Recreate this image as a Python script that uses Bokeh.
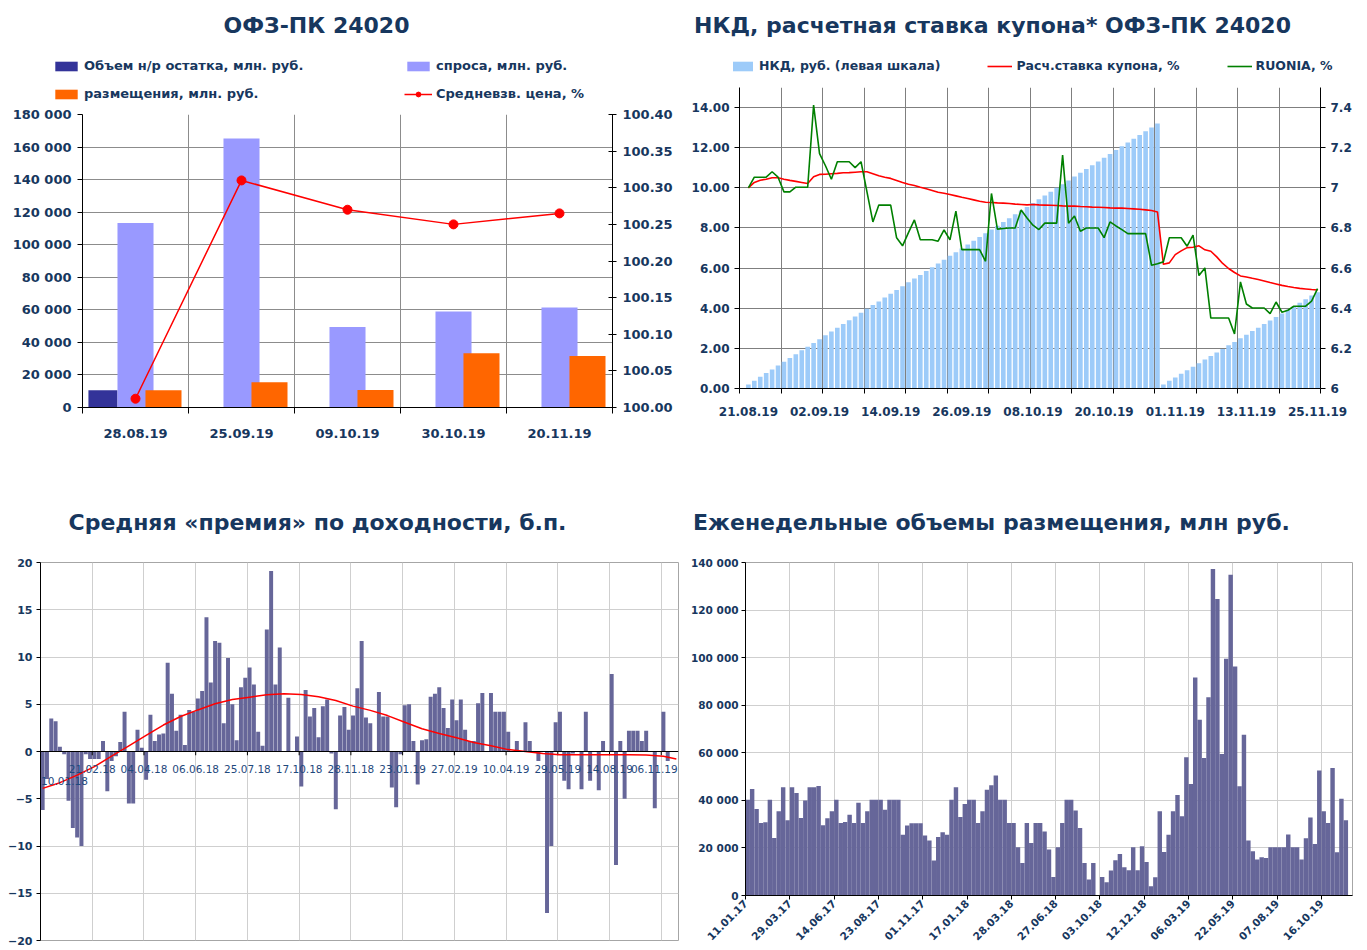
import math
from bokeh.plotting import figure
from bokeh.models import (Range1d, LinearAxis, FixedTicker, Legend, LegendItem,
                          Label, LabelSet, ColumnDataSource, Span, NumeralTickFormatter)
from bokeh.layouts import row, column
from bokeh.embed import file_html
from bokeh.resources import INLINE
from bokeh.core.properties import value

FONT = "DejaVu Sans"
TXT = "#17375E"

# ---------------- Panel 1 data ----------------
p1_dates = ["28.08.19", "25.09.19", "09.10.19", "30.10.19", "20.11.19"]
p1_remainder = [10600, float("nan"), float("nan"), float("nan"), float("nan")]
p1_demand = [113300, 165300, 49400, 59000, 61400]
p1_placed = [10600, 15500, 10800, 33300, 31600]
p1_price = [100.012, 100.310, 100.270, 100.250, 100.265]
p1_yticks = [0, 20000, 40000, 60000, 80000, 100000, 120000, 140000, 160000, 180000]
p1_rticks = [100.00, 100.05, 100.10, 100.15, 100.20, 100.25, 100.30, 100.35, 100.40]

# ---------------- Panel 2 data (daily, 21.08.19 .. 25.11.19) ----------------
p2_tick_labels = ["21.08.19", "02.09.19", "14.09.19", "26.09.19", "08.10.19",
                  "20.10.19", "01.11.19", "13.11.19", "25.11.19"]
p2_label_days = [0, 12, 24, 36, 48, 60, 72, 84, 96]
p2_nkd = [0.20, 0.39, 0.58, 0.77, 0.95, 1.14, 1.33, 1.52, 1.71, 1.90,
          2.08, 2.27, 2.46, 2.65, 2.84, 3.03, 3.21, 3.40, 3.59, 3.78,
          3.97, 4.16, 4.34, 4.53, 4.72, 4.91, 5.10, 5.29, 5.48, 5.66,
          5.85, 6.04, 6.23, 6.42, 6.61, 6.79, 6.98, 7.17, 7.36, 7.55,
          7.74, 7.92, 8.11, 8.30, 8.49, 8.68, 8.87, 9.05, 9.24, 9.43,
          9.62, 9.81, 10.00, 10.18, 10.37, 10.56, 10.75, 10.94, 11.13, 11.31,
          11.50, 11.69, 11.88, 12.07, 12.26, 12.44, 12.63, 12.82, 13.01, 13.20,
          0.20, 0.38, 0.55, 0.73, 0.91, 1.09, 1.26, 1.44, 1.62, 1.79,
          1.97, 2.15, 2.32, 2.50, 2.68, 2.86, 3.03, 3.21, 3.39, 3.56,
          3.74, 3.92, 4.09, 4.27, 4.45, 4.63, 4.80]
p2_coupon = [7.000, 7.027, 7.038, 7.043, 7.050, 7.050, 7.043, 7.037, 7.032, 7.027,
             7.022, 7.055, 7.067, 7.068, 7.070, 7.072, 7.075, 7.076, 7.078, 7.080,
             7.080, 7.070, 7.060, 7.053, 7.047, 7.037, 7.027, 7.018, 7.012, 7.003,
             6.995, 6.987, 6.978, 6.973, 6.967, 6.960, 6.953, 6.947, 6.940, 6.933,
             6.928, 6.927, 6.925, 6.924, 6.922, 6.919, 6.917, 6.915, 6.917, 6.915,
             6.914, 6.913, 6.912, 6.910, 6.909, 6.909, 6.907, 6.906, 6.904, 6.903,
             6.902, 6.900, 6.899, 6.899, 6.897, 6.895, 6.893, 6.890, 6.887, 6.880,
             6.619, 6.626, 6.667, 6.686, 6.702, 6.704, 6.711, 6.691, 6.684, 6.656,
             6.623, 6.598, 6.578, 6.561, 6.556, 6.549, 6.543, 6.536, 6.528, 6.521,
             6.514, 6.508, 6.503, 6.499, 6.496, 6.493, 6.491]
p2_ruonia = [7.000, 7.053, 7.053, 7.053, 7.080, 7.053, 6.980, 6.980, 7.003, 7.003,
             7.003, 7.412, 7.170, 7.110, 7.043, 7.130, 7.130, 7.130, 7.101, 7.130,
             6.980, 6.830, 6.914, 6.914, 6.914, 6.751, 6.711, 6.777, 6.840, 6.741,
             6.741, 6.741, 6.734, 6.790, 6.741, 6.884, 6.692, 6.692, 6.692, 6.692,
             6.634, 6.972, 6.794, 6.797, 6.800, 6.800, 6.889, 6.850, 6.814, 6.792,
             6.824, 6.824, 6.824, 7.163, 6.824, 6.860, 6.784, 6.800, 6.800, 6.800,
             6.752, 6.830, 6.810, 6.792, 6.772, 6.772, 6.772, 6.772, 6.614, 6.622,
             6.631, 6.751, 6.751, 6.751, 6.709, 6.764, 6.563, 6.601, 6.351, 6.351,
             6.351, 6.351, 6.272, 6.531, 6.421, 6.401, 6.401, 6.401, 6.373, 6.431,
             6.380, 6.390, 6.410, 6.410, 6.410, 6.435, 6.498]
p2_lticks = [0, 2, 4, 6, 8, 10, 12, 14]
p2_rticks = [6.0, 6.2, 6.4, 6.6, 6.8, 7.0, 7.2, 7.4]
p2_rtick_labels = ["6", "6.2", "6.4", "6.6", "6.8", "7", "7.2", "7.4"]

# ---------------- Panel 3 data (per auction) ----------------
p3_labels = ["10.01.18", "21.02.18", "04.04.18", "06.06.18", "25.07.18", "17.10.18",
             "28.11.18", "23.01.19", "27.02.19", "10.04.19", "29.05.19", "14.08.19", "06.11.19"]
p3_premium = [-6.2, -2.9, 3.5, 3.2, 0.5, -0.3, -5.2, -8.1, -9.1, -10.0, -0.3, -0.8,
              -0.8, -0.8, 1.1, -4.2, -1.0, -0.5, 1.0, 4.2, -5.5, -5.5, 2.3, 0.4,
              -3.0, 3.9, 1.1, 1.8, 1.9, 9.4, 6.1, 2.2, 3.9, 0.7, 4.4, 4.2,
              5.6, 6.4, 14.2, 7.3, 11.7, 11.5, 3.0, 9.9, 5.0, 1.2, 6.8, 7.8,
              8.9, 7.1, 2.1, 0.6, 12.9, 19.1, 7.1, 11.0, 0.0, 5.7, 0.0, 1.6,
              -3.7, 6.5, 3.7, 4.6, 1.5, 4.8, 5.5, -0.2, -6.1, 3.8, 4.7, 2.3,
              3.8, 6.7, 11.7, 3.6, 3.0, 0.0, 6.3, 3.7, 3.7, -3.8, -5.9, -0.3,
              4.9, 5.0, 1.1, -3.5, 1.2, 1.3, 5.8, 6.1, 6.8, 4.6, 2.5, 5.5,
              3.3, 5.5, 2.3, 1.1, 1.1, 5.1, 6.2, 0.0, 6.2, 4.2, 4.2, 4.2,
              2.1, 0.0, 1.1, 0.0, 3.1, 1.1, 0.0, -1.0, 0.0, -17.1, -10.0, 3.1,
              4.2, -3.1, -4.0, -0.2, 0.0, -4.0, 4.2, -3.1, 0.0, -4.1, 1.1, 0.0,
              8.2, -12.0, 1.1, -5.0, 2.2, 2.2, 2.2, 1.1, 2.2, 0.0, -6.0, 0.0,
              4.2, -1.0, 0.0, 0.0]
p3_trend_pos = [0, 4, 8, 12, 16, 20, 24, 28, 32, 36, 40, 44, 48, 52, 56, 60, 64, 68, 72,
                76, 80, 84, 88, 92, 96, 100, 104, 108, 112, 116, 120, 124, 128, 132,
                136, 140, 144, 147]
p3_trend = [-3.9, -3.3, -2.5, -1.6, -0.5, 0.6, 1.7, 2.8, 3.7, 4.4, 5.05, 5.5, 5.75,
            6.0, 6.1, 6.03, 5.8, 5.4, 4.8, 4.35, 3.8, 3.1, 2.4, 1.9, 1.45, 0.95, 0.6,
            0.2, 0.0, -0.2, -0.35, -0.35, -0.35, -0.35, -0.35, -0.38, -0.5, -0.8]
p3_yticks = [-20, -15, -10, -5, 0, 5, 10, 15, 20]

# ---------------- Panel 4 data (weekly) ----------------
p4_labels = ["11.01.17", "29.03.17", "14.06.17", "23.08.17", "01.11.17", "17.01.18",
             "28.03.18", "27.06.18", "03.10.18", "12.12.18", "06.03.19", "22.05.19",
             "07.08.19", "16.10.19"]
p4_volume = [40300, 44800, 36400, 30500, 30800, 40300, 24200, 35400, 45500, 31600,
             45500, 43100, 32600, 39900, 45500, 45500, 46000, 29500, 32500, 35400,
             40300, 30500, 30900, 33900, 30500, 39000, 30500, 35400, 40300, 40300,
             40300, 36100, 40300, 40300, 40300, 25500, 29400, 30400, 30400, 30400,
             25200, 23100, 14700, 24600, 26600, 25500, 40300, 45500, 33000, 38500,
             40300, 40300, 30500, 35400, 44500, 46300, 50500, 40300, 40300, 30500,
             30500, 20300, 13700, 30500, 22100, 30500, 30500, 26900, 19300, 7800,
             20300, 30500, 40300, 40300, 35700, 28400, 13700, 6700, 13700, 0,
             7800, 5600, 10500, 14800, 17500, 11900, 10600, 20300, 10600, 20700,
             14100, 3900, 7700, 35400, 18300, 25500, 35400, 42300, 33300, 58100,
             46900, 91700, 73900, 57800, 83300, 137300, 124700, 59500, 99500, 134800,
             96300, 45900, 67600, 23100, 18600, 15100, 16100, 15800, 20300, 20300,
             20300, 20300, 25600, 20300, 20300, 15100, 24100, 32800, 21700, 52600,
             35400, 30500, 53600, 18200, 40700, 31600]
p4_yticks = [0, 20000, 40000, 60000, 80000, 100000, 120000, 140000]


def fmt_thousands(v):
    return "{:,}".format(int(v)).replace(",", " ")


def style_axis(ax, size, bold=True, color=TXT):
    ax.major_label_text_font = FONT
    ax.major_label_text_font_style = "bold" if bold else "normal"
    ax.major_label_text_font_size = size
    ax.major_label_text_color = color
    ax.axis_line_color = "black"
    ax.major_tick_line_color = "black"
    ax.minor_tick_line_color = None


def header(width, height):
    h = figure(width=width, height=height, x_range=Range1d(0, width), y_range=Range1d(0, height),
               x_axis_type=None, y_axis_type=None, output_backend="svg",
               toolbar_location=None, title=None, min_border=0)
    h.outline_line_color = None
    h.xgrid.visible = False
    h.ygrid.visible = False
    return h


def add_title(h, text, x, y, size="22px"):
    h.add_layout(Label(x=x, y=y, text=text, text_align="center", text_baseline="middle",
                       text_font=FONT, text_font_style="bold", text_font_size=size,
                       text_color=TXT))


def style_legend(lg, size="12px"):
    lg.label_text_font = FONT
    lg.label_text_font_style = "bold"
    lg.label_text_font_size = size
    lg.label_text_color = TXT
    lg.background_fill_alpha = 0
    lg.border_line_color = None
    lg.padding = 0
    lg.margin = 0
    lg.label_height = 14
    lg.glyph_height = 12


# legend-key swatches live off-canvas in the header plots (only their style is shown)
KEY_X = [-50, -49]
KEY_Y = [0, 0]

# ======================= Panel 1 =======================
n1 = len(p1_dates)
c1 = [i + 0.5 for i in range(n1)]
p1 = figure(width=688, height=374, x_range=Range1d(0, n1), y_range=Range1d(0, 180000),
            output_backend="svg", toolbar_location=None, title=None,
            min_border_left=82, min_border_right=76, min_border_top=10, min_border_bottom=71)
p1.extra_y_ranges = {"price": Range1d(100.0, 100.4)}
p1.outline_line_color = None

p1.vbar(x=[c - 0.307 for c in c1], top=p1_remainder, width=0.274,
        fill_color="#333399", line_color=None)
p1.vbar(x=c1, top=p1_demand, width=0.34, fill_color="#9999FF", line_color=None)
p1.vbar(x=[c + 0.264 for c in c1], top=p1_placed, width=0.34,
        fill_color="#FF6600", line_color=None)
p1.line(c1, p1_price, y_range_name="price", line_color="#FF0000", line_width=1.5)
p1.scatter(c1, p1_price, y_range_name="price", size=9, fill_color="#FF0000",
           line_color="#FF0000")

ax = p1.xaxis[0]
ax.ticker = FixedTicker(ticks=c1, minor_ticks=list(range(n1 + 1)))
ax.major_label_overrides = {c: d for c, d in zip(c1, p1_dates)}
style_axis(ax, "13px")
ax.major_tick_line_color = None
ax.major_tick_out = 0
ax.major_label_standoff = 15
ax.minor_tick_line_color = "black"
ax.minor_tick_out = 6
ax.minor_tick_in = 0
p1.xgrid.ticker = FixedTicker(ticks=list(range(n1 + 1)))
p1.xgrid.grid_line_color = "#8C8C8C"

ay = p1.yaxis[0]
ay.ticker = FixedTicker(ticks=p1_yticks)
ay.major_label_overrides = {v: fmt_thousands(v) for v in p1_yticks}
style_axis(ay, "13px")
ay.major_tick_out = 5
ay.major_tick_in = 0
ay.major_label_standoff = 6
p1.ygrid.grid_line_color = "#8C8C8C"

ar = LinearAxis(y_range_name="price", ticker=FixedTicker(ticks=p1_rticks),
                formatter=NumeralTickFormatter(format="0.00"))
style_axis(ar, "13px")
ar.major_tick_out = 4
ar.major_tick_in = 4
ar.major_label_standoff = 6
p1.add_layout(ar, "right")

h1 = header(688, 104)
k_rem = h1.vbar(x=KEY_X, top=KEY_Y, width=1, fill_color="#333399", line_color=None)
k_dem = h1.vbar(x=KEY_X, top=KEY_Y, width=1, fill_color="#9999FF", line_color=None)
k_pla = h1.vbar(x=KEY_X, top=KEY_Y, width=1, fill_color="#FF6600", line_color=None)
k_pl = h1.line(x=KEY_X, y=KEY_Y, line_color="#FF0000", line_width=1.5)
k_ps = h1.scatter(x=KEY_X, y=KEY_Y, size=9, fill_color="#FF0000", line_color="#FF0000")
leg1a = Legend(items=[LegendItem(label="Объем н/р остатка, млн. руб.", renderers=[k_rem]),
                      LegendItem(label="спроса, млн. руб.", renderers=[k_dem])],
               orientation="horizontal", location=(52, 31))
leg1b = Legend(items=[LegendItem(label="размещения, млн. руб.", renderers=[k_pla]),
                      LegendItem(label="Средневзв. цена, %", renderers=[k_pl, k_ps])],
               orientation="horizontal", location=(52, 3))
for lg in (leg1a, leg1b):
    style_legend(lg, "13px")
    lg.glyph_width = 28
    lg.label_standoff = 4
    lg.label_width = 220
    lg.spacing = 100
    h1.add_layout(lg, "center")
add_title(h1, "ОФЗ-ПК 24020", 316, 79)

# ======================= Panel 2 =======================
days = list(range(len(p2_nkd)))
grid_days = [-1.5 + 7 * k for k in range(15)]
p2 = figure(width=674, height=400, x_range=Range1d(-1.5, 96.5), y_range=Range1d(0, 15),
            output_backend="svg", toolbar_location=None, title=None,
            min_border_left=50, min_border_right=42, min_border_top=9, min_border_bottom=90)
p2.extra_y_ranges = {"rate": Range1d(6.0, 7.5)}
p2.outline_line_color = None

p2.vbar(x=days, top=p2_nkd, width=0.78, fill_color="#9DCBF9", line_color=None)
p2.line(days, p2_coupon, y_range_name="rate", line_color="#FF0000", line_width=1.6)
p2.line(days, p2_ruonia, y_range_name="rate", line_color="#008000", line_width=1.6)

bx = p2.xaxis[0]
bx.ticker = FixedTicker(ticks=p2_label_days, minor_ticks=grid_days)
bx.major_label_overrides = {d: s for d, s in zip(p2_label_days, p2_tick_labels)}
style_axis(bx, "12px")
bx.major_tick_line_color = None
bx.major_tick_out = 0
bx.major_label_standoff = 13
bx.minor_tick_line_color = "black"
bx.minor_tick_out = 5
bx.minor_tick_in = 0
p2.xgrid.ticker = FixedTicker(ticks=grid_days)
p2.xgrid.grid_line_color = "#7F7F7F"

by = p2.yaxis[0]
by.ticker = FixedTicker(ticks=p2_lticks)
by.formatter = NumeralTickFormatter(format="0.00")
style_axis(by, "12px")
by.major_tick_out = 5
by.major_tick_in = 0
by.major_label_standoff = 5
p2.ygrid.grid_line_color = "#7F7F7F"

br = LinearAxis(y_range_name="rate", ticker=FixedTicker(ticks=p2_rticks))
br.major_label_overrides = {v: s for v, s in zip(p2_rticks, p2_rtick_labels)}
style_axis(br, "12px")
br.major_tick_out = 5
br.major_tick_in = 0
br.major_label_standoff = 5
p2.add_layout(br, "right")

h2 = header(674, 78)
k_nkd = h2.vbar(x=KEY_X, top=KEY_Y, width=1, fill_color="#9DCBF9", line_color=None)
k_cp = h2.line(x=KEY_X, y=KEY_Y, line_color="#FF0000", line_width=1.6)
k_ru = h2.line(x=KEY_X, y=KEY_Y, line_color="#008000", line_width=1.6)
leg2 = Legend(items=[LegendItem(label="НКД, руб. (левая шкала)", renderers=[k_nkd]),
                     LegendItem(label="Расч.ставка купона, %", renderers=[k_cp]),
                     LegendItem(label="RUONIA, %", renderers=[k_ru])],
              orientation="horizontal", location=(42, 5))
style_legend(leg2, "12.5px")
leg2.glyph_width = 25
leg2.label_standoff = 4
leg2.spacing = 47
h2.add_layout(leg2, "center")
add_title(h2, "НКД, расчетная ставка купона* ОФЗ-ПК 24020", 304, 53)

# ======================= Panel 3 =======================
n3 = len(p3_premium)
lab3_pos = [12 * i for i in range(len(p3_labels))]
lab3_xoff = [24] + [0] * (len(p3_labels) - 2) + [-7]
lab3_yoff = [-29] + [-17] * (len(p3_labels) - 1)
p3 = figure(width=688, height=400, x_range=Range1d(0, n3), y_range=Range1d(-20, 20),
            output_backend="svg", toolbar_location=None, title=None,
            min_border_left=40, min_border_right=10, min_border_top=14, min_border_bottom=8)
p3.outline_line_color = "#A6A6A6"
p3.xaxis.visible = False
p3.xgrid.ticker = FixedTicker(ticks=lab3_pos)
p3.xgrid.grid_line_color = "#CFCFCF"
p3.ygrid.grid_line_color = "#CFCFCF"

p3.vbar(x=[k + 0.5 for k in range(n3)], top=p3_premium, width=0.92,
        fill_color="#666699", line_color=None)
p3.add_layout(Span(location=0, dimension="width", line_color="black", line_width=1))
p3.segment(x0=lab3_pos, y0=[0] * len(lab3_pos), x1=lab3_pos, y1=[-0.4] * len(lab3_pos),
           line_color="black", line_width=1)
p3.line([k + 0.5 for k in p3_trend_pos], p3_trend, line_color="#FF0000", line_width=1.5)

cy = p3.yaxis[0]
cy.ticker = FixedTicker(ticks=p3_yticks)
style_axis(cy, "11px")
cy.major_tick_out = 4
cy.major_tick_in = 0
cy.major_label_standoff = 4

src3 = ColumnDataSource(dict(x=lab3_pos, y=[0] * len(lab3_pos), t=p3_labels,
                             xo=lab3_xoff, yo=lab3_yoff))
p3.add_layout(LabelSet(x="x", y="y", text="t", source=src3, x_offset="xo", y_offset="yo",
                       text_align="center", text_baseline="middle",
                       text_font=value(FONT), text_font_size="10.5px", text_color="#1F497D"))

h3 = header(688, 70)
add_title(h3, "Средняя «премия» по доходности, б.п.", 317, 26)

# ======================= Panel 4 =======================
n4 = len(p4_volume) + 1
lab4_pos = [10 * i for i in range(len(p4_labels))]
p4 = figure(width=674, height=400, x_range=Range1d(0, n4), y_range=Range1d(0, 140000),
            output_backend="svg", toolbar_location=None, title=None,
            min_border_left=55, min_border_right=10, min_border_top=14, min_border_bottom=53)
p4.outline_line_color = "#A6A6A6"
p4.vbar(x=[k + 0.5 for k in range(len(p4_volume))], top=p4_volume, width=1.0,
        fill_color="#666699", line_color=None)

dx = p4.xaxis[0]
dx.ticker = FixedTicker(ticks=lab4_pos)
dx.major_label_overrides = {k: s for k, s in zip(lab4_pos, p4_labels)}
style_axis(dx, "10.5px")
dx.major_label_orientation = math.pi / 4
dx.major_tick_out = 4
dx.major_tick_in = 0
dx.major_label_standoff = 2
p4.xgrid.grid_line_color = "#CFCFCF"

dy = p4.yaxis[0]
dy.ticker = FixedTicker(ticks=p4_yticks)
dy.major_label_overrides = {v: fmt_thousands(v) for v in p4_yticks}
style_axis(dy, "10.5px")
dy.major_tick_out = 4
dy.major_tick_in = 0
dy.major_label_standoff = 3
p4.ygrid.grid_line_color = "#CFCFCF"

h4 = header(674, 70)
add_title(h4, "Еженедельные объемы размещения, млн руб.", 303, 26)

layout = column(row(column(row(h1), p1), column(row(h2), p2)),
                row(column(row(h3), p3), column(row(h4), p4)))
open("out.html", "w").write(file_html(layout, INLINE))
